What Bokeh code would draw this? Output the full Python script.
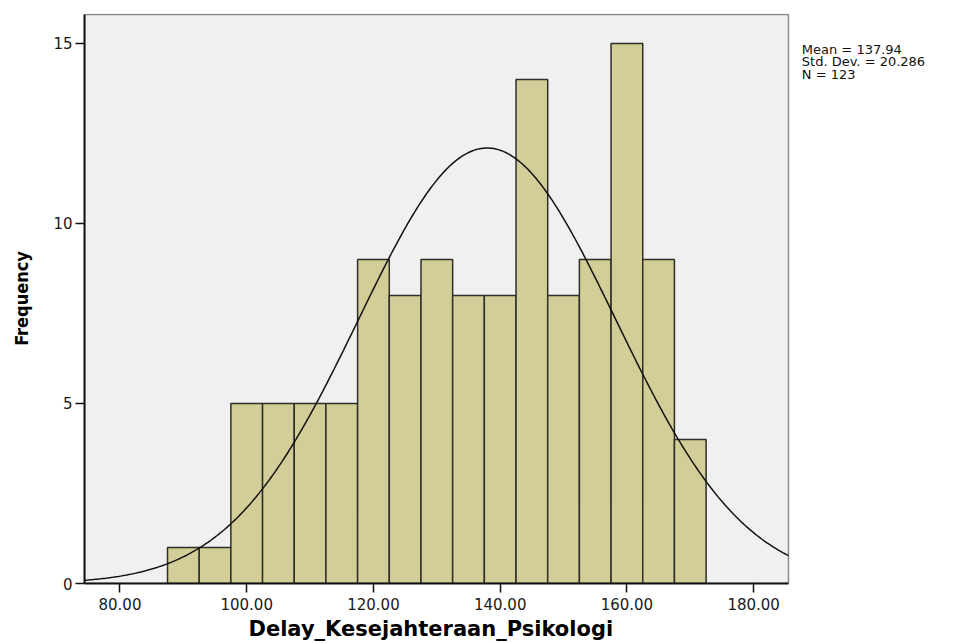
import numpy as np
from bokeh.plotting import figure
from bokeh.models import Range1d, FixedTicker, Title
from bokeh.core.properties import value
from bokeh.embed import file_html
from bokeh.resources import INLINE

# Histogram of Delay_Kesejahteraan_Psikologi (bins of width 5)
bin_start = 87.5
bin_width = 5.0
counts = [1, 1, 5, 5, 5, 5, 9, 8, 9, 8, 8, 14, 8, 9, 15, 9, 4]

# Summary statistics
mean_val = 137.94
std_dev = 20.286
n_obs = 123

x_ticks = [80, 100, 120, 140, 160, 180]
x_tick_labels = ["80.00", "100.00", "120.00", "140.00", "160.00", "180.00"]
y_ticks = [0, 5, 10, 15]

lefts = bin_start + bin_width * np.arange(len(counts))
rights = lefts + bin_width

# Plotting box in data units; the canvas extends further right to hold the stats text
x_lo, x_hi = 74.4, 185.5
y_top = 15.8
px_per_unit = 704 / (x_hi - x_lo)
x_canvas_hi = x_lo + 871 / px_per_unit

p = figure(width=955, height=643, x_range=Range1d(x_lo, x_canvas_hi), y_range=Range1d(0, y_top + 0.03),
           output_backend="svg", toolbar_location=None,
           min_border_left=84, min_border_right=0, min_border_top=13, min_border_bottom=60)

p.background_fill_color = "white"
p.border_fill_color = "white"
p.outline_line_color = None
p.xgrid.visible = False
p.ygrid.visible = False

# Grey plotting area with its top/right border
p.quad(left=[x_lo], right=[x_hi], bottom=[0], top=[y_top],
       fill_color="#f0f0f0", line_color="#8a8a8a", line_width=1.5)

p.quad(left=lefts, right=rights, bottom=0, top=counts,
       fill_color="#d3ce97", line_color="#2e2e2a", line_width=1.5)

# Fitted normal curve scaled to counts
xs = np.linspace(x_lo, x_hi, 400)
ys = n_obs * bin_width * np.exp(-0.5 * ((xs - mean_val) / std_dev) ** 2) / (std_dev * np.sqrt(2 * np.pi))
p.line(xs, ys, line_color="#111111", line_width=1.5)

for ax in (p.xaxis, p.yaxis):
    ax.axis_line_color = "#111111"
    ax.axis_line_width = 2
    ax.major_tick_line_color = "#111111"
    ax.major_tick_line_width = 1.5
    ax.major_tick_in = 0
    ax.major_tick_out = 9
    ax.minor_tick_line_color = None
    ax.major_label_text_font = "DejaVu Sans"
    ax.major_label_text_font_size = "15px"
    ax.major_label_text_color = "#1a1a1a"

p.xaxis.bounds = (x_lo, x_hi)
p.xaxis.ticker = FixedTicker(ticks=x_ticks)
p.xaxis.major_label_overrides = {t: s for t, s in zip(x_ticks, x_tick_labels)}
p.xaxis.major_label_standoff = 5
p.yaxis.bounds = (0, y_top)
p.yaxis.ticker = FixedTicker(ticks=y_ticks)
p.yaxis.major_label_standoff = 3

# x label centred under the grey plotting box rather than the whole canvas
p.add_layout(Title(text="Delay_Kesejahteraan_Psikologi", align="left", offset=164,
                   text_font="DejaVu Sans", text_font_style="bold", text_font_size="21px",
                   text_color="black", standoff=4), "below")

p.yaxis.axis_label = "Frequency"
p.yaxis.axis_label_text_font = "DejaVu Sans Condensed"
p.yaxis.axis_label_text_font_style = "bold"
p.yaxis.axis_label_text_font_size = "18px"
p.yaxis.axis_label_text_color = "black"
p.yaxis.axis_label_standoff = 18

# Statistics text to the right of the plotting area
stats = [f"Mean = {mean_val:.2f}", f"Std. Dev. = {std_dev:.3f}", f"N = {n_obs}"]
stats_y = [15.05 - i * 12.5 / 36.0 for i in range(len(stats))]
p.text(x=[x_hi + 2.1] * len(stats), y=stats_y, text=stats, text_baseline="top",
       text_font=value("DejaVu Sans"), text_font_size="13px", text_color="#111111")

open("out.html", "w").write(file_html(p, INLINE))
